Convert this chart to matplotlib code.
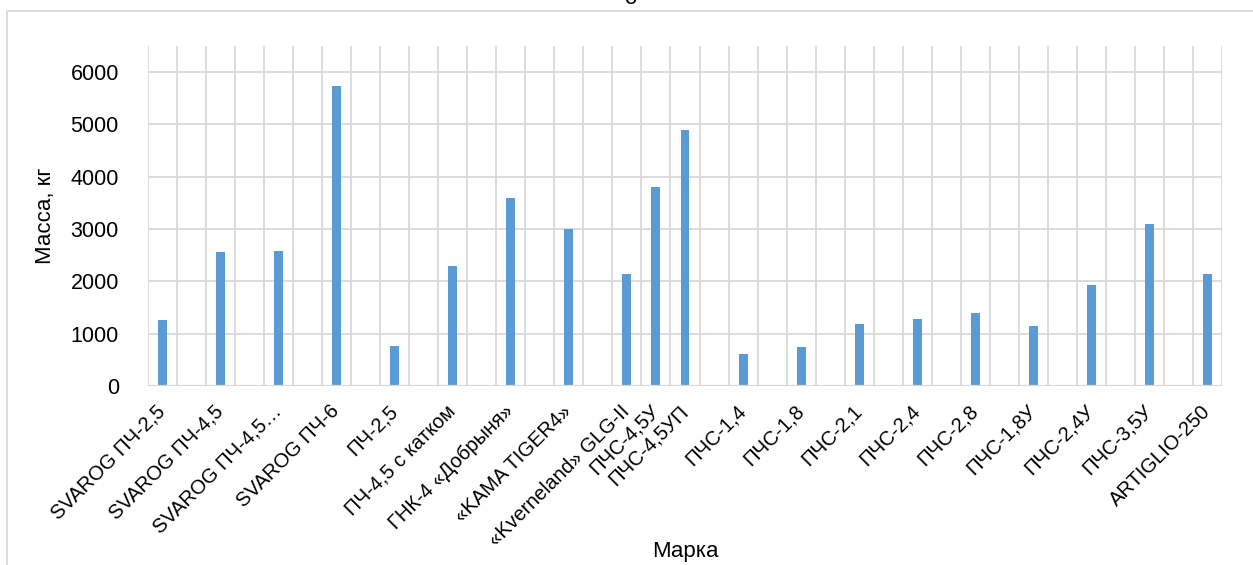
import numpy as np
import matplotlib
matplotlib.use("Agg")
import matplotlib.pyplot as plt
from matplotlib.patches import Rectangle

plt.rcParams['font.family'] = ['Liberation Sans', 'DejaVu Sans']

# source table has blank rows between most brands
brands = ['SVAROG ПЧ-2,5', '', 'SVAROG ПЧ-4,5', '', 'SVAROG ПЧ-4,5…', '',
          'SVAROG ПЧ-6', '', 'ПЧ-2,5', '', 'ПЧ-4,5 с катком', '',
          'ГНК-4 «Добрыня»', '', '«KAMA TIGER4»', '', '«Kverneland» GLG-II',
          'ПЧС-4,5У', 'ПЧС-4,5УП', '', 'ПЧС-1,4', '', 'ПЧС-1,8', '',
          'ПЧС-2,1', '', 'ПЧС-2,4', '', 'ПЧС-2,8', '', 'ПЧС-1,8У', '',
          'ПЧС-2,4У', '', 'ПЧС-3,5У', '', 'ARTIGLIO-250']
mass = [1260, None, 2570, None, 2580, None, 5740, None, 770, None,
        2300, None, 3600, None, 3000, None, 2140, 3800, 4900, None,
        610, None, 750, None, 1190, None, 1290, None, 1400, None,
        1150, None, 1940, None, 3100, None, 2140]
yticks = [0, 1000, 2000, 3000, 4000, 5000, 6000]

grid_c = '#D9D9D9'
bar_c = '#5B9BD5'
fs = 14.5

fig = plt.figure(figsize=(12.53, 5.65), dpi=100)
ax = fig.add_axes([148/1253, 1 - 386/565, (1222 - 148)/1253, (386 - 46)/565])

x = np.arange(len(brands))
vals = np.array([np.nan if v is None else v for v in mass], dtype=float)
ax.bar(x, vals, width=0.31, color=bar_c, zorder=3)

ax.set_xlim(-0.5, len(brands) - 0.5)
ax.set_ylim(0, 6500)
ax.set_yticks(yticks)
ax.set_yticklabels([str(v) for v in yticks], fontsize=fs + 1)
ax.tick_params(axis='y', length=0, pad=21)

for b in np.arange(-0.5, len(brands)):
    ax.axvline(b, color=grid_c, lw=1.3, zorder=1)
for t in yticks[1:]:
    ax.axhline(t, color=grid_c, lw=1.3, zorder=1)
ax.axhline(0, color=grid_c, lw=1.6, zorder=4)

for s in ax.spines.values():
    s.set_visible(False)

ax.set_xticks(x)
ax.set_xticklabels(brands, rotation=45, ha='right', va='center',
                   rotation_mode='anchor', fontsize=fs)
ax.tick_params(axis='x', length=0, pad=16)

fig.text(45/1253, 1 - 216/565, 'Масса, кг', rotation=90, ha='center', va='center', fontsize=fs + 1.5)
fig.text(685/1253, 1 - 552/565, 'Марка', ha='center', va='center', fontsize=fs + 1.5)
fig.text(630/1253, 1 - 4/565, 'о', ha='center', va='baseline', fontsize=fs + 1.5)

fig.patches.append(Rectangle((7/1253, -0.1), 1.2, 1.1 - 11/565, transform=fig.transFigure,
                             fill=False, edgecolor=grid_c, lw=1.3))

fig.savefig('out.png', dpi=100)
